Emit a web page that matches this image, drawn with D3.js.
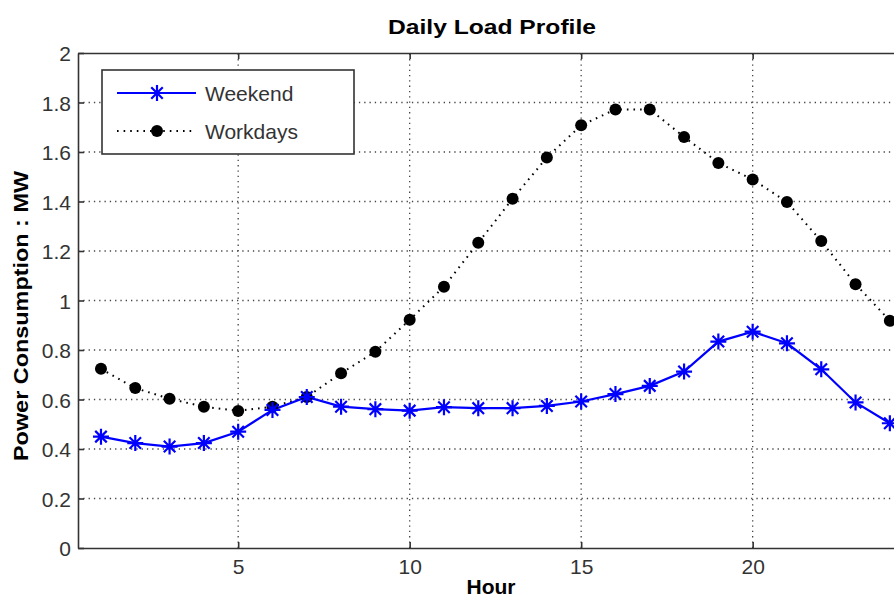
<!DOCTYPE html>
<html lang="en">
  <head>
    <meta charset="UTF-8" />
    <title>Daily Load Profile</title>
    <style>
      body { margin: 0; background: #fff; }
      svg { display: block; font-family: 'Liberation Sans', Arial, sans-serif; }
      .tick text { fill: #333; font-size: 21px; }
    </style>
  </head>
  <body>
    <script src="https://d3js.org/d3.v7.min.js"></script>
    <script>
      // Data
      const hours = [1, 2, 3, 4, 5, 6, 7, 8, 9, 10, 11, 12, 13, 14, 15, 16, 17, 18, 19, 20, 21, 22, 23, 24];
      const weekend = [0.45, 0.424, 0.41, 0.424, 0.47, 0.558, 0.61, 0.571, 0.561, 0.555, 0.569, 0.565,
        0.565, 0.574, 0.592, 0.622, 0.655, 0.713, 0.834, 0.874, 0.827, 0.722, 0.588, 0.504];
      const workdays = [0.724, 0.646, 0.603, 0.571, 0.554, 0.571, 0.61, 0.706, 0.793, 0.922, 1.056, 1.233,
        1.411, 1.578, 1.708, 1.772, 1.772, 1.661, 1.556, 1.489, 1.398, 1.24, 1.066, 0.918];
      const xTicks = [5, 10, 15, 20];
      const yTicks = [0, 0.2, 0.4, 0.6, 0.8, 1, 1.2, 1.4, 1.6, 1.8, 2];
      const seriesNames = ['Weekend', 'Workdays'];

      const width = 894;
      const height = 598;
      const margin = { top: 53, left: 78, bottom: 50 };
      const plotRight = 907;

      const svg = d3.select('body').append('svg')
        .attr('width', width)
        .attr('height', height);

      const x = d3.scaleLinear().domain([0.33, 24.5]).range([margin.left, plotRight]);
      const y = d3.scaleLinear().domain([0, 2]).range([height - margin.bottom, margin.top]);

      // grid lines
      const grid = svg.append('g').attr('stroke', '#444').attr('stroke-width', 1.3)
        .attr('stroke-dasharray', '1.3 4');
      grid.selectAll('.gx').data(xTicks).enter().append('line')
        .attr('x1', d => x(d)).attr('x2', d => x(d))
        .attr('y1', y(0)).attr('y2', y(2));
      grid.selectAll('.gy').data(yTicks.slice(1, -1)).enter().append('line')
        .attr('x1', x.range()[0]).attr('x2', x.range()[1])
        .attr('y1', d => y(d)).attr('y2', d => y(d));

      // axes (MATLAB style: ticks inward)
      const xAxis = svg.append('g')
        .attr('transform', `translate(0,${y(0)})`)
        .call(d3.axisBottom(x).tickValues(xTicks).tickSize(-6).tickPadding(11).tickSizeOuter(0));
      const xAxisTop = svg.append('g')
        .attr('transform', `translate(0,${y(2)})`)
        .call(d3.axisTop(x).tickValues(xTicks).tickSize(-6).tickFormat('').tickSizeOuter(0));
      const yAxis = svg.append('g')
        .attr('transform', `translate(${margin.left},0)`)
        .call(d3.axisLeft(y).tickValues(yTicks).tickSize(-6).tickPadding(7)
          .tickFormat(d => String(d)).tickSizeOuter(0));
      [xAxis, xAxisTop, yAxis].forEach(a => {
        a.select('.domain').attr('stroke', '#333').attr('stroke-width', 1.6);
        a.selectAll('.tick line').attr('stroke', '#333').attr('stroke-width', 1.6);
        a.selectAll('.tick text').attr('font-family', 'Liberation Sans, Arial, sans-serif');
      });
      xAxis.selectAll('.tick text').attr('dy', '0.71em');
      yAxis.selectAll('.tick text').attr('dy', '0.36em');

      // lines
      const line = d3.line().x((d, i) => x(hours[i])).y(d => y(d));

      svg.append('path').datum(workdays)
        .attr('d', line).attr('fill', 'none')
        .attr('stroke', '#000').attr('stroke-width', 2)
        .attr('stroke-dasharray', '1.6 5').attr('stroke-linecap', 'butt');

      svg.append('path').datum(weekend)
        .attr('d', line).attr('fill', 'none')
        .attr('stroke', '#0000ff').attr('stroke-width', 2.2);

      const star = (sel, r) => {
        sel.append('path')
          .attr('d', `M${-r},0H${r}M0,${-r}V${r}M${-r * 0.72},${-r * 0.72}L${r * 0.72},${r * 0.72}M${-r * 0.72},${r * 0.72}L${r * 0.72},${-r * 0.72}`)
          .attr('stroke', '#0000ff').attr('stroke-width', 2.2).attr('fill', 'none');
      };

      svg.selectAll('.dot').data(workdays).enter().append('circle')
        .attr('cx', (d, i) => x(hours[i])).attr('cy', d => y(d))
        .attr('r', 6).attr('fill', '#000');

      svg.selectAll('.star').data(weekend).enter().append('g')
        .attr('transform', (d, i) => `translate(${x(hours[i])},${y(d)})`)
        .each(function () { star(d3.select(this), 8); });

      // legend
      const legend = svg.append('g');
      legend.append('rect')
        .attr('x', 102).attr('y', 70).attr('width', 252).attr('height', 84)
        .attr('fill', '#fff').attr('stroke', '#333').attr('stroke-width', 1.6);
      const ly = [93, 131];
      legend.append('line').attr('x1', 117).attr('x2', 196).attr('y1', ly[0]).attr('y2', ly[0])
        .attr('stroke', '#0000ff').attr('stroke-width', 2.2);
      star(legend.append('g').attr('transform', `translate(157,${ly[0]})`), 8);
      legend.append('line').attr('x1', 117).attr('x2', 196).attr('y1', ly[1]).attr('y2', ly[1])
        .attr('stroke', '#000').attr('stroke-width', 2).attr('stroke-dasharray', '1.6 5');
      legend.append('circle').attr('cx', 157).attr('cy', ly[1]).attr('r', 6).attr('fill', '#000');
      legend.selectAll('.lt').data(seriesNames).enter().append('text')
        .attr('x', 205).attr('y', (d, i) => ly[i] + 8)
        .attr('font-size', 21).attr('fill', '#333')
        .text(d => d);

      // titles
      svg.append('text').text('Daily Load Profile')
        .attr('x', 492).attr('y', 34).attr('text-anchor', 'middle')
        .attr('font-size', 21).attr('font-weight', 'bold')
        .attr('textLength', 208).attr('lengthAdjust', 'spacingAndGlyphs');

      svg.append('text').text('Hour')
        .attr('x', 491).attr('y', 594).attr('text-anchor', 'middle')
        .attr('font-size', 21).attr('font-weight', 'bold');

      svg.append('text').text('Power Consumption : MW')
        .attr('transform', 'translate(28,316) rotate(-90)')
        .attr('text-anchor', 'middle')
        .attr('font-size', 20).attr('font-weight', 'bold')
        .attr('textLength', 290).attr('lengthAdjust', 'spacingAndGlyphs');
    </script>
  </body>
</html>
